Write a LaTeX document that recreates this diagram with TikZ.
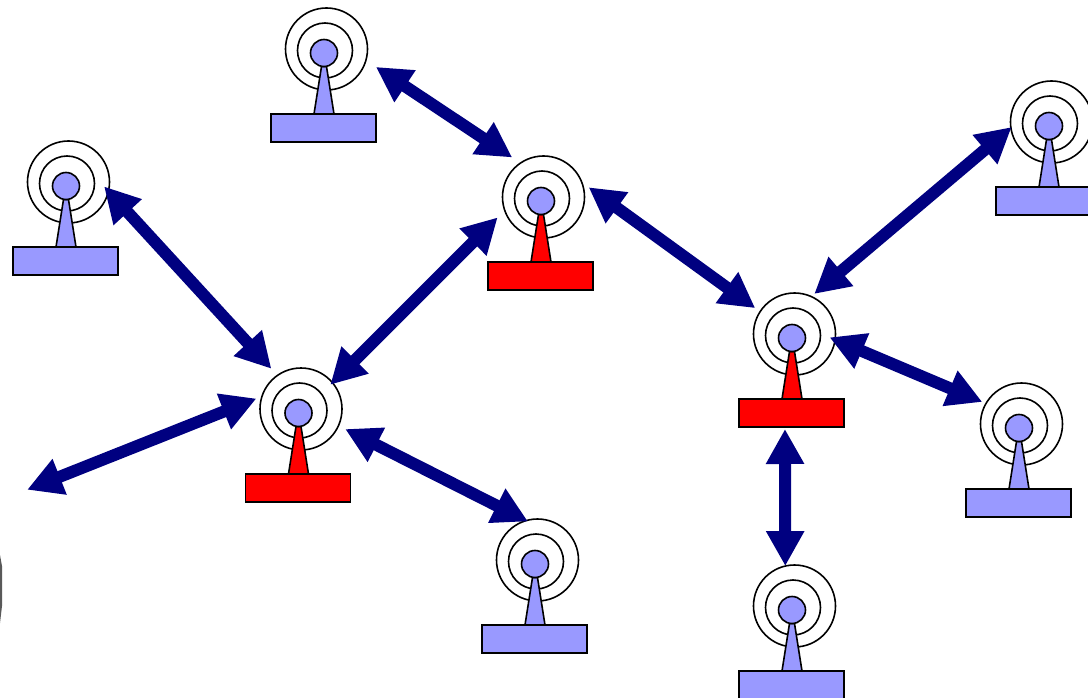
\documentclass[tikz,border=0pt]{standalone}
\usepackage{tikz}
\usetikzlibrary{arrows.meta}

\definecolor{hubblue}{HTML}{9999FF}
\definecolor{linknavy}{HTML}{000080}

\tikzset{
  ring/.style={circle, draw, line width=1.6pt, inner sep=0pt, outer sep=0pt},
  part/.style={draw, line width=1.6pt, line join=miter},
  base/.style={rectangle, part, inner sep=0pt, outer sep=0pt, minimum width=105pt, minimum height=28pt},
  link/.style={line width=12pt, linknavy, {Triangle[length=35pt,width=36pt]}-{Triangle[length=35pt,width=36pt]}}
}

\begin{document}
\begin{tikzpicture}[x=1pt, y=-1pt]
                \clip (0,0) rectangle (1088,698);

                % Towers: name, hub position, colour
                \foreach \n/\x/\y/\c in {top/324/53/hubblue, lefta/66/186/hubblue, gwa/298.5/413/red, gwb/541/201/red, gwc/792/338/red, righta/1049/126/hubblue, rightb/1019/428/hubblue, bota/535/564/hubblue, botb/792/610/hubblue} {
                    \node at (\x+2.5,\y-4) [ring, minimum size=82pt] (\n) {};
                    \node at (\x+1,\y-2.5) [ring, minimum size=55pt] (\n-mid) {};
                    \draw[part, fill=\c] (\x-2.5,\y+13.5) -- (\x+2.5,\y+13.5) -- (\x+10,\y+61) -- (\x-10,\y+61) -- cycle;
                    \node at (\x,\y) [ring, fill=hubblue, minimum size=27pt] (\n-hub) {};
                    \node at (\x-0.5,\y+75) [base, fill=\c] (\n-base) {};
                }

                % Loose end on the left
                \coordinate (free) at (29,489);
                \fill[black!65] (0,555) -- (2,566) -- (2,606) -- (0,623) -- cycle;

                % Arrows
                \draw[link, shorten <=12pt, shorten >=10pt] (top.-16.4) -- (gwb.124.3);
                \draw[link, shorten <=-6.5pt, shorten >=9pt] (lefta.-13.7) -- (gwa.125.2);
                \draw[link, shorten <=10pt, shorten >=-3pt] (gwb.199) -- (gwa.40.6);
                \draw[link, shorten <=8.5pt, shorten >=6pt] (gwb.21.2) -- (gwc.147.9);
                \draw[link, shorten <=-1pt, shorten >=4pt] (righta.188.4) -- (gwc.66.2);
                \draw[link, shorten <=-6pt, shorten >=4pt] (gwc.-8.1) -- (rightb.150.9);
                \draw[link, shorten <=2pt, shorten >=0pt] (gwc-base.245) -- (botb.103);
                \draw[link, shorten <=6pt, shorten >=-2pt] (gwa.162.6) -- (free);
                \draw[link, shorten <=7.5pt, shorten >=-2pt] (gwa.-24.4) -- (bota.106.1);
\end{tikzpicture}
\end{document}
